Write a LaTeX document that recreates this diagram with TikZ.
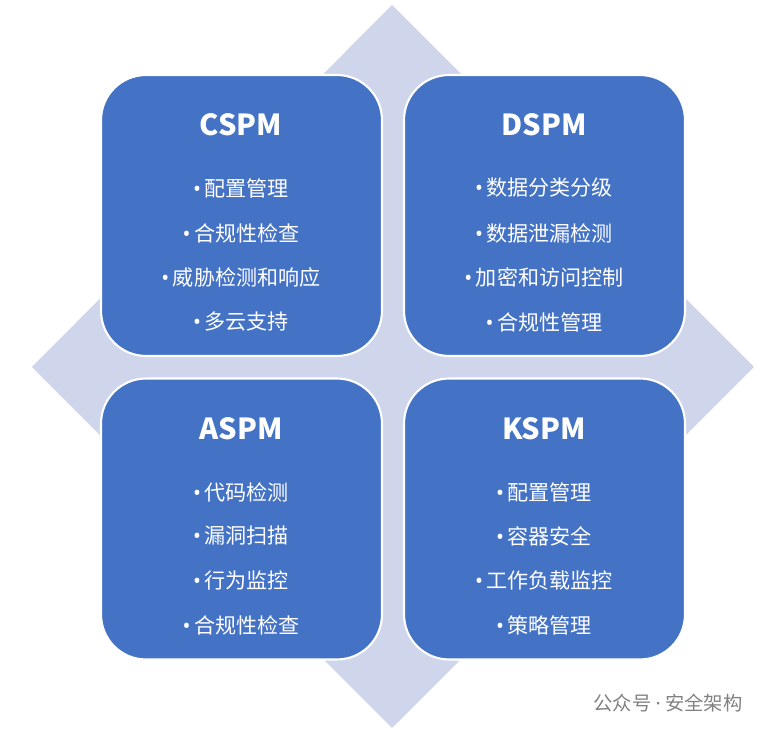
\documentclass[tikz,border=0pt]{standalone}
\usepackage{fontspec}
\setmainfont{Noto Sans CJK SC}
\newfontfamily\bulletfont{Noto Sans}
\newcommand{\pmdot}{{\bulletfont •}\kern2pt}
\usetikzlibrary{positioning}
\definecolor{boxblue}{HTML}{4472C4}
\definecolor{diamondgray}{HTML}{CFD5EA}
\tikzset{
  pmbox/.style={draw=white, line width=1.2pt, fill=boxblue, rounded corners=0.9cm, minimum width=5.62cm, minimum height=5.62cm},
  pmtitle/.style={text=white, font=\fontsize{16.5}{18}\selectfont\bfseries},
  pmitem/.style={text=white, font=\fontsize{12}{14}\selectfont}
}
\begin{document}
\begin{tikzpicture}[x=0.02cm, y=-0.02cm]
\useasboundingbox (0,0) rectangle (779,732);
\fill[diamondgray] (392,5) -- (754,367) -- (392,728) -- (32,367) -- cycle;
\node[pmbox] (cspm) at (241.5,215.5) {};
\node[pmbox] (dspm) at (544.5,215.5) {};
\node[pmbox] (aspm) at (241.5,519) {};
\node[pmbox] (kspm) at (544.5,519) {};
% CSPM
\node[pmtitle] (cspmt) at (241,125) {CSPM};
\node[pmitem] (cspm1) at (241,188) {\pmdot 配置管理};
\node[pmitem] (cspm2) at (241,233) {\pmdot 合规性检查};
\node[pmitem] (cspm3) at (241,277) {\pmdot 威胁检测和响应};
\node[pmitem] (cspm4) at (241,322) {\pmdot 多云支持};
% DSPM
\node[pmtitle] (dspmt) at (544,125) {DSPM};
\node[pmitem] (dspm1) at (544,188) {\pmdot 数据分类分级};
\node[pmitem] (dspm2) at (544,233) {\pmdot 数据泄漏检测};
\node[pmitem] (dspm3) at (544,277) {\pmdot 加密和访问控制};
\node[pmitem] (dspm4) at (544,322) {\pmdot 合规性管理};
% ASPM
\node[pmtitle] (aspmt) at (241,429) {ASPM};
\node[pmitem] (aspm1) at (241,492) {\pmdot 代码检测};
\node[pmitem] (aspm2) at (241,536) {\pmdot 漏洞扫描};
\node[pmitem] (aspm3) at (241,581) {\pmdot 行为监控};
\node[pmitem] (aspm4) at (241,625) {\pmdot 合规性检查};
% KSPM
\node[pmtitle] (kspmt) at (544,429) {KSPM};
\node[pmitem] (kspm1) at (544,492) {\pmdot 配置管理};
\node[pmitem] (kspm2) at (544,536) {\pmdot 容器安全};
\node[pmitem] (kspm3) at (544,581) {\pmdot 工作负载监控};
\node[pmitem] (kspm4) at (544,625) {\pmdot 策略管理};
\node[text=gray, font=\fontsize{11}{13}\selectfont] (mark) at (668,703) {公众号 {\bulletfont ·} 安全架构};
\end{tikzpicture}
\end{document}
